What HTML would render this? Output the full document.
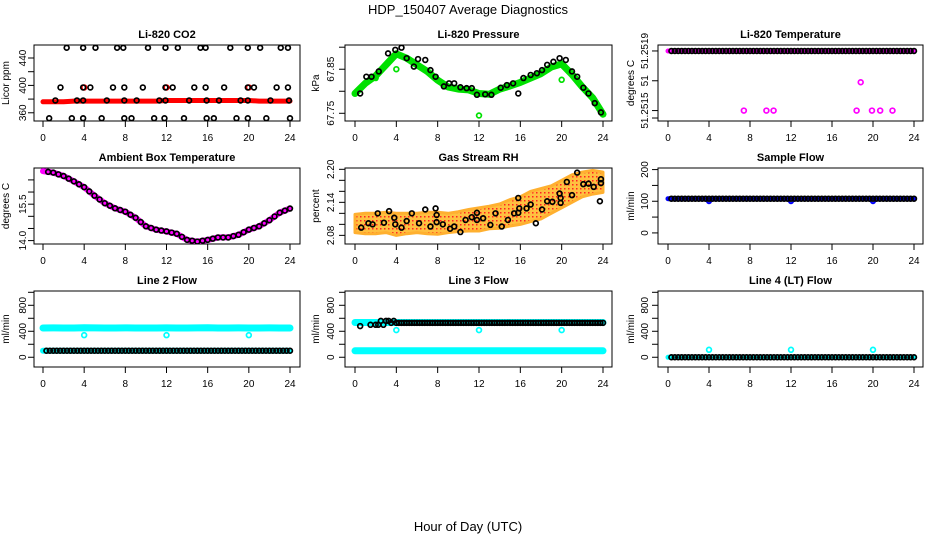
<!DOCTYPE html>
<html><head><meta charset="utf-8"><style>
body{margin:0;background:#fff;}
svg{display:block;font-family:"Liberation Sans",Arial,sans-serif;}
</style></head><body>
<svg id="c" width="936" height="540" viewBox="0 0 936 540">
<text x="468" y="14" text-anchor="middle" font-size="13">HDP_150407  Average Diagnostics</text>
<text x="468" y="531" text-anchor="middle" font-size="13">Hour of Day (UTC)</text>
</svg>
<script>
// ---- data ----
const hours = [0,1,2,3,4,5,6,7,8,9,10,11,12,13,14,15,16,17,18,19,20,21,22,23,24];
const xTicks = [0,4,8,12,16,20,24];
// CO2
const co2TopT = [2.3,3.9,5.1,7.2,7.8,10.2,11.9,13.1,15.3,15.8,18.2,19.9,21.1,23.1,23.8];
const co2TopV = [455,455,455,455,455,455,455,455,455,455,455,455,455,455,455];
const co2MidT = [1.7,3.9,4.6,6.8,7.9,9.7,11.9,12.6,14.7,15.8,17.6,19.9,20.5,22.7,23.8];
const co2MidV = [397,397,397,397,397,397,397,397,397,397,397,397,397,397,397];
const co2LowT = [1.2,3.3,3.9,6.2,7.9,9.1,11.3,11.9,14.2,15.9,17.1,19.2,19.9,22.1,23.9];
const co2LowV = [378,378,378,378,378,378,378,378,378,378,378,378,378,378,378];
const co2BotT = [0.6,2.8,3.9,5.7,7.9,8.6,10.8,11.8,13.7,15.9,16.6,18.8,19.9,21.7,24.0];
const co2BotV = [352,352,352,352,352,352,352,352,352,352,352,352,352,352,352];
const co2Red = [376,376,376,377,377,377,377,377,377,377,377,377,378,378,378,378,378,378,378,378,378,377,377,377,377];
const co2RedOutT = [4,12,20];
const co2RedOutV = [397,397,397];
// Pressure
const presT = [0.5,1.1,1.6,2.3,3.2,3.9,4.5,5.0,5.7,6.1,6.8,7.3,7.8,8.6,9.1,9.6,10.2,10.8,11.3,11.8,12.6,13.2,14.1,14.7,15.3,15.8,16.3,17.0,17.6,18.1,18.6,19.2,19.8,20.4,21.0,21.5,22.1,22.6,23.2,23.8];
const presV = [67.795,67.833,67.833,67.845,67.886,67.894,67.899,67.875,67.856,67.873,67.871,67.848,67.833,67.811,67.818,67.818,67.809,67.807,67.807,67.792,67.793,67.792,67.808,67.814,67.818,67.795,67.830,67.837,67.841,67.848,67.860,67.867,67.875,67.871,67.845,67.833,67.808,67.795,67.773,67.752];
const presGreen = [67.795,67.818,67.835,67.86,67.885,67.875,67.86,67.845,67.825,67.81,67.805,67.803,67.795,67.793,67.805,67.812,67.82,67.83,67.84,67.855,67.862,67.838,67.81,67.785,67.748];
const presOutT = [2.0,4.0,12.0,20.0];
const presOutV = [67.83,67.85,67.745,67.826];
// Li-820 temperature
const tempTopV = [51.2519,51.2519,51.2519,51.2519,51.2519,51.2519,51.2519,51.2519,51.2519,51.2519,51.2519,51.2519,51.2519,51.2519,51.2519,51.2519,51.2519,51.2519,51.2519,51.2519,51.2519,51.2519,51.2519,51.2519,51.2519];
const tempOutT = [7.4,9.6,10.3,18.4,18.8,19.9,20.7,21.9];
const tempOutV = [51.2515,51.2515,51.2515,51.2515,51.25169,51.2515,51.2515,51.2515];
// Ambient box temperature
const ambV = [16.86,16.8,16.66,16.44,16.2,15.85,15.54,15.33,15.19,14.94,14.59,14.45,14.38,14.28,14.03,13.96,14.03,14.13,14.13,14.24,14.45,14.59,14.84,15.15,15.32];
// Gas stream RH
const rhT = [0.6,1.3,1.7,2.2,2.8,3.3,3.8,3.9,4.5,5.0,5.5,6.2,6.8,7.3,7.8,7.9,7.9,8.5,9.2,9.6,10.2,10.7,11.3,11.8,11.8,12.4,13.1,13.6,14.2,14.8,15.4,15.8,15.8,15.9,16.6,17.0,17.5,18.1,18.6,19.1,19.8,19.9,19.9,20.5,21.0,21.5,22.1,22.6,23.1,23.7,23.8,23.8];
const rhV = [2.094,2.102,2.100,2.120,2.103,2.124,2.112,2.100,2.094,2.106,2.120,2.102,2.127,2.096,2.129,2.117,2.104,2.100,2.092,2.096,2.086,2.108,2.113,2.121,2.108,2.111,2.099,2.120,2.096,2.108,2.120,2.121,2.148,2.129,2.129,2.136,2.102,2.127,2.142,2.141,2.156,2.148,2.139,2.177,2.153,2.194,2.173,2.174,2.168,2.142,2.182,2.175];
const rhLow = [2.085,2.083,2.083,2.085,2.08,2.083,2.085,2.083,2.082,2.085,2.087,2.088,2.088,2.092,2.093,2.097,2.10,2.105,2.11,2.12,2.13,2.14,2.15,2.155,2.158];
const rhHigh = [2.118,2.12,2.12,2.122,2.12,2.12,2.12,2.122,2.122,2.12,2.123,2.127,2.13,2.133,2.137,2.145,2.15,2.16,2.165,2.17,2.18,2.19,2.195,2.198,2.195];
// Sample flow
const sfV = [108,108,108,108,108,108,108,108,108,108,108,108,108,108,108,108,108,108,108,108,108,108,108,108,108];
const sfDipT = [4,12,20];
const sfDipV = [100,100,100];
// Line 2
const l2Cyan = [450,452,451,450,453,452,450,451,452,450,451,450,452,451,450,452,453,451,450,452,451,450,452,451,450];
const l2Low = [100,100,100,100,100,100,100,100,100,100,100,100,100,100,100,100,100,100,100,100,100,100,100,100,100];
const l2OutT = [4,12,20];
const l2OutV = [340,340,340];
// Line 3
const l3Cyan = [535,535,535,535,535,535,535,535,535,535,535,535,535,535,535,535,535,535,535,535,535,535,535,535,535];
const l3Black = [530,480,500,560,530,530,530,530,530,530,530,530,530,530,530,530,530,530,530,530,530,530,530,530,530];
const l3Low = [100,100,100,100,100,100,100,100,100,100,100,100,100,100,100,100,100,100,100,100,100,100,100,100,100];
const l3OutT = [4,12,20];
const l3OutV = [418,418,418];
// Line 4
const l4V = [0,0,0,0,0,0,0,0,0,0,0,0,0,0,0,0,0,0,0,0,0,0,0,0,0];
const l4OutT = [4,12,20];
const l4OutV = [115,115,115];

// ---- drawing ----
const svg = document.getElementById('c');
const NS = 'http://www.w3.org/2000/svg';
function el(tag, attrs, parent) {
  const e = document.createElementNS(NS, tag);
  for (const k in attrs) e.setAttribute(k, attrs[k]);
  (parent || svg).appendChild(e);
  return e;
}
const cols = [{l:34,r:300,x0:43,x24:290,yl:26,yt:9},{l:345,r:612,x0:355,x24:603,yl:334,yt:319},{l:658,r:923,x0:668,x24:914,yl:648,yt:634}];
const rows = [{t:45,b:121},{t:168,b:244},{t:291,b:367}];

function panel(name, ci, ri, ymin, ymax, title, ylab, yTicks, yLabels) {
  const c = cols[ci], r = rows[ri];
  const g = el('g', {});
  
  
  const xs = h => c.x0 + h * (c.x24 - c.x0) / 24;
  const ys = v => r.b - (v - ymin) / (ymax - ymin) * (r.b - r.t);
  const t = el('text', {x:(c.l+c.r)/2, y:r.t-7, 'text-anchor':'middle', 'font-size':11, 'font-weight':'bold'}, g);
  t.textContent = title;
  
  
  const box = el('rect', {x:c.l, y:r.t, width:c.r-c.l, height:r.b-r.t, fill:'none', stroke:'#000', 'stroke-width':1}, g);
  
  
  el('line', {x1:xs(0), x2:xs(24), y1:r.b, y2:r.b, stroke:'#000'}, g);
  xTicks.forEach(h => {
    el('line', {x1:xs(h), x2:xs(h), y1:r.b, y2:r.b+6, stroke:'#000'}, g);
    const tl = el('text', {x:xs(h), y:r.b+20, 'text-anchor':'middle', 'font-size':10}, g);
    tl.textContent = h;
    
    
  });
  yTicks.forEach((v, i) => {
    el('line', {x1:c.l, x2:c.l-6, y1:ys(v), y2:ys(v), stroke:'#000'}, g);
    if (yLabels[i] !== '') {
      const tl = el('text', {x:c.yl, y:ys(v), 'text-anchor':'middle', 'font-size':10, transform:`rotate(-90 ${c.yl} ${ys(v)})`}, g);
      tl.textContent = yLabels[i];
      
      
    }
  });
  const yc = (r.t + r.b) / 2;
  const yt = el('text', {x:c.yt, y:yc, 'text-anchor':'middle', 'font-size':10, transform:`rotate(-90 ${c.yt} ${yc})`}, g);
  yt.textContent = ylab;
  
  
  const clip = 'clip' + ci + ri;
  const cp = el('clipPath', {id:clip}, g);
  el('rect', {x:c.l, y:r.t, width:c.r-c.l, height:r.b-r.t}, cp);
  const marks = el('g', {'clip-path':`url(#${clip})`}, g);
  return {g:marks, xs, ys};
}
function pts(p, T, V, color, name, r, sw) {
  T.forEach((h, i) => {
    const ci = el('circle', {cx:p.xs(h), cy:p.ys(V[i]), r:r||2.4, fill:'none', stroke:color, 'stroke-width':sw||1.7}, p.g);
    
    
  });
}
function band(p, T, V, color, w, name) {
  const d = T.map((h, i) => (i ? 'L' : 'M') + p.xs(h).toFixed(1) + ' ' + p.ys(V[i]).toFixed(1)).join(' ');
  const pa = el('path', {d, fill:'none', stroke:color, 'stroke-width':w, 'stroke-linejoin':'round', 'stroke-linecap':'round'}, p.g);
  
  
}
// dense black points for flat series: at each hour, +1/3 and +2/3
function dense(p, V, name) {
  pts(p, hours.slice(1), V.slice(1), '#000', name);
  pts(p, hours.slice(0,24).map(h => h + 1/3), V.slice(0,24), '#000', name);
  pts(p, hours.slice(0,24).map(h => h + 2/3), V.slice(1), '#000', name);
}

// Panel 1: CO2
let p = panel('co2', 0, 0, 348, 459, 'Li-820 CO2', 'Licor ppm', [360,380,400,420,440], ['360','','400','','440']);
band(p, hours, co2Red, '#f00', 5, 'co2-red-band');
pts(p, co2RedOutT, co2RedOutV, '#f00', 'co2-red-point');
pts(p, co2TopT, co2TopV, '#000', 'co2-point');
pts(p, co2MidT, co2MidV, '#000', 'co2-point');
pts(p, co2LowT, co2LowV, '#000', 'co2-point');
pts(p, co2BotT, co2BotV, '#000', 'co2-point');

// Panel 2: Pressure
p = panel('pressure', 1, 0, 67.7325, 67.905, 'Li-820 Pressure', 'kPa', [67.75,67.80,67.85,67.90], ['67.75','','67.85','']);
band(p, hours, presGreen, '#00e000', 7, 'pressure-green-band');
pts(p, presOutT, presOutV, '#00e000', 'pressure-green-point');
pts(p, presT, presV, '#000', 'pressure-point');

// Panel 3: Li-820 Temperature
p = panel('li820-temp', 2, 0, 51.25143, 51.25194, 'Li-820 Temperature', 'degrees C', [51.2519,51.2517,51.2515,51.25145], ['51.2519','51','51.2515','']);
band(p, hours, tempTopV, '#f0f', 5, 'temp-magenta-band');
dense(p, tempTopV, 'temp-point');
pts(p, tempOutT, tempOutV, '#f0f', 'temp-magenta-point');

// Panel 4: Ambient
p = panel('ambient-temp', 0, 1, 13.86, 16.99, 'Ambient Box Temperature', 'degrees C', [14,14.5,15,15.5,16,16.5], ['14.0','','','15.5','','']);
band(p, hours, ambV, '#f0f', 6, 'ambient-magenta-band');
pts(p, hours.map(h => h + 0.5).slice(0,24), ambV.slice(0,24).map((v,i)=> (v + ambV[i+1]) / 2), '#000', 'ambient-point');
pts(p, hours.slice(1), ambV.slice(1), '#000', 'ambient-point');

// Panel 5: RH
p = panel('gas-rh', 1, 1, 2.0643, 2.2024, 'Gas Stream RH', 'percent', [2.08,2.10,2.12,2.14,2.16,2.18,2.20], ['2.08','','','2.14','','','2.20']);
{
  const up = hours.map((h,i) => p.xs(h).toFixed(1) + ',' + p.ys(rhHigh[i]).toFixed(1));
  const dn = hours.map((h,i) => p.xs(h).toFixed(1) + ',' + p.ys(rhLow[i]).toFixed(1)).reverse();
  const pat = el('pattern', {id:'rhpat', width:4, height:4, patternUnits:'userSpaceOnUse'}, svg);
  el('rect', {width:4, height:4, fill:'#ffc040'}, pat);
  el('rect', {x:0, y:0, width:1.5, height:1.5, fill:'#f22'}, pat);
  const poly = el('polygon', {points: up.concat(dn).join(' '), fill:'url(#rhpat)', stroke:'#ffb030', 'stroke-width':3, 'stroke-linejoin':'round'}, p.g);
  
  
}
pts(p, rhT, rhV, '#000', 'rh-point');

// Panel 6: Sample flow
p = panel('sample-flow', 2, 1, -35, 205, 'Sample Flow', 'ml/min', [0,50,100,150,200], ['0','','100','','200']);
band(p, hours, sfV, '#00f', 5, 'sample-flow-blue-band');
pts(p, sfDipT, sfDipV, '#00f', 'sample-flow-blue-point', 2, 2);
dense(p, sfV, 'sample-flow-point');

// Panel 7: Line 2
const flowTicks = [0,200,400,600,800,1000];
const flowLabels = ['0','','400','','800',''];
p = panel('line2-flow', 0, 2, -150, 1020, 'Line 2 Flow', 'ml/min', flowTicks, flowLabels);
band(p, hours, l2Cyan, '#0ff', 7, 'line2-cyan-band');
band(p, hours, l2Low, '#0ff', 6, 'line2-cyan-low-band');
pts(p, l2OutT, l2OutV, '#0ff', 'line2-cyan-point');
dense(p, l2Low, 'line2-point');

// Panel 8: Line 3
p = panel('line3-flow', 1, 2, -150, 1020, 'Line 3 Flow', 'ml/min', flowTicks, flowLabels);
band(p, hours, l3Cyan, '#0ff', 7, 'line3-cyan-band');
band(p, hours, l3Low, '#0ff', 7, 'line3-cyan-low-band');
pts(p, l3OutT, l3OutV, '#0ff', 'line3-cyan-point');
pts(p, hours.slice(0,24).map(h => h + 0.5), l3Black.slice(1), '#000', 'line3-point');
pts(p, hours.slice(2), l3Black.slice(2), '#000', 'line3-point');
pts(p, hours.slice(2,24).map(h => h + 0.25), l3Black.slice(2,24), '#000', 'line3-point');
pts(p, hours.slice(2,24).map(h => h + 0.75), l3Black.slice(2,24), '#000', 'line3-point');

// Panel 9: Line 4
p = panel('line4-flow', 2, 2, -150, 1020, 'Line 4 (LT) Flow', 'ml/min', flowTicks, flowLabels);
band(p, hours, l4V, '#0ff', 5, 'line4-cyan-band');
pts(p, l4OutT, l4OutV, '#0ff', 'line4-cyan-point');
dense(p, l4V, 'line4-point');
</script>
</body></html>
